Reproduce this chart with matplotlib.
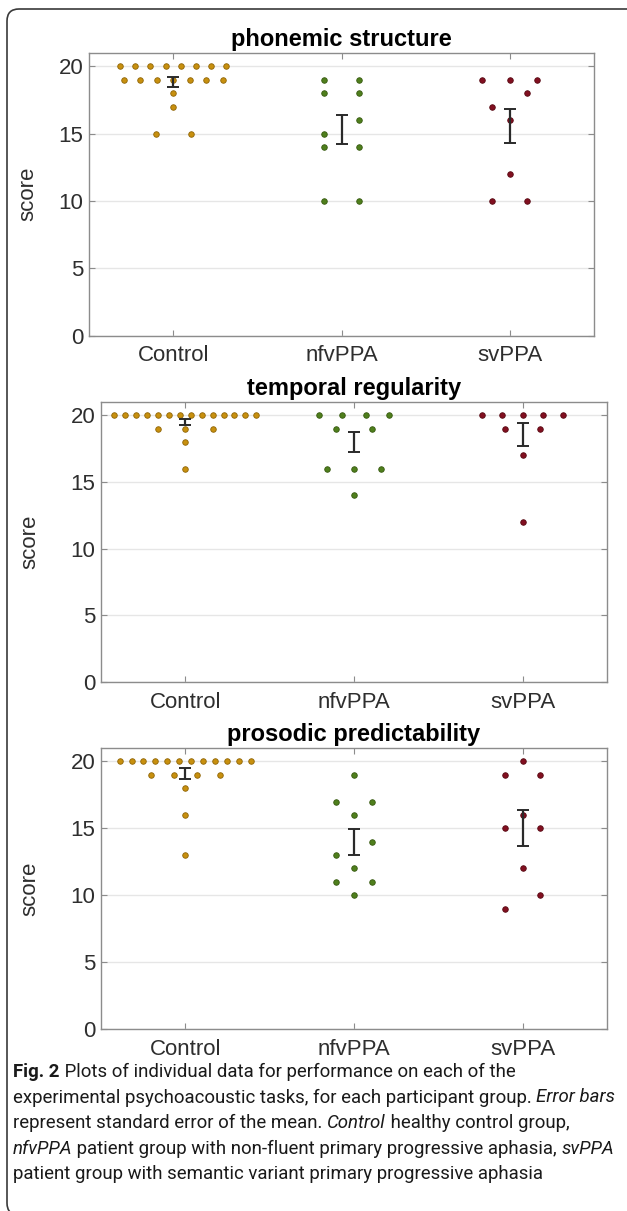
"""Individual scores on the three psychoacoustic tasks, per participant group (Fig. 2)."""

import matplotlib

matplotlib.use("Agg")
import matplotlib.pyplot as plt
import numpy as np
from matplotlib.patches import FancyBboxPatch
from matplotlib.transforms import IdentityTransform

W, H = 627, 1211

groups = ["Control", "nfvPPA", "svPPA"]
panel_titles = ["phonemic structure", "temporal regularity", "prosodic predictability"]
y_ticks = [0, 5, 10, 15, 20]

# scores, one list per group and task
phonemic_control = [20, 20, 20, 20, 20, 20, 20, 20, 19, 19, 19, 19, 19, 19, 19, 18, 17, 15, 15]
phonemic_nfvppa = [19, 19, 18, 18, 16, 15, 14, 14, 10, 10]
phonemic_svppa = [19, 19, 19, 18, 17, 16, 12, 10, 10]

temporal_control = [20, 20, 20, 20, 20, 20, 20, 20, 20, 20, 20, 20, 20, 20, 19, 19, 19, 18, 16]
temporal_nfvppa = [20, 20, 20, 20, 19, 19, 16, 16, 16, 14]
temporal_svppa = [20, 20, 20, 20, 20, 19, 19, 17, 12]

prosodic_control = [20, 20, 20, 20, 20, 20, 20, 20, 20, 20, 20, 20, 19, 19, 19, 19, 18, 16, 13]
prosodic_nfvppa = [19, 17, 17, 16, 14, 13, 12, 11, 11, 10]
prosodic_svppa = [20, 19, 19, 16, 15, 15, 12, 10, 9]

panels = [
    [phonemic_control, phonemic_nfvppa, phonemic_svppa],
    [temporal_control, temporal_nfvppa, temporal_svppa],
    [prosodic_control, prosodic_nfvppa, prosodic_svppa],
]

face_colors = ["#C8900E", "#4F7F1C", "#820F20"]
edge_colors = ["#8F6406", "#36590F", "#560812"]

# axes boxes in pixels: left, right, top, bottom
boxes = [(89, 594, 53, 335.5), (101, 607, 402, 682), (101, 607, 748, 1029)]
ylabel_x = [38, 40, 40]

caption_lines = [
    [("Fig. 2", "bold", "normal"), (" Plots of individual data for performance on each of the", "normal", "normal")],
    [("experimental psychoacoustic tasks, for each participant group. ", "normal", "normal"),
     ("Error bars", "normal", "italic")],
    [("represent standard error of the mean. ", "normal", "normal"), ("Control", "normal", "italic"),
     (" healthy control group,", "normal", "normal")],
    [("nfvPPA", "normal", "italic"),
     (" patient group with non-fluent primary progressive aphasia, ", "normal", "normal"),
     ("svPPA", "normal", "italic")],
    [("patient group with semantic variant primary progressive aphasia", "normal", "normal")],
]
caption_y = [1072, 1097.5, 1123, 1148.5, 1174]


def spread(values, pair_singles):
    """Simple beeswarm: equal values side by side, width shrinking with count."""
    vals = np.asarray(values)
    uniq, counts = np.unique(vals, return_counts=True)
    count = dict(zip(uniq.tolist(), counts.tolist()))
    side = {}
    if pair_singles:
        for u in sorted(count, reverse=True):
            if count[u] == 1 and u not in side and count.get(u - 1) == 1 and (u - 1) not in side:
                side[u], side[u - 1] = 1, -1
    xs, ys = [], []
    for u in sorted(count, reverse=True):
        n = count[u]
        if u in side:
            xs.append(side[u] * 0.315 * 2 ** -0.6 / 2)
            ys.append(u)
            continue
        step = 0.315 * n ** -0.6
        xs.extend((np.arange(n) - (n - 1) / 2) * step)
        ys.extend([u] * n)
    return np.array(xs), np.array(ys)


def text_width(renderer, s, prop):
    w1, _, _ = renderer.get_text_width_height_descent(s + "I", prop, ismath=False)
    w2, _, _ = renderer.get_text_width_height_descent("I", prop, ismath=False)
    return w1 - w2


fig = plt.figure(figsize=(W / 100, H / 100), dpi=100)
fig.patch.set_facecolor("white")

for p, (data, title) in enumerate(zip(panels, panel_titles)):
    left, right, top, bottom = boxes[p]
    ax = fig.add_axes([left / W, 1 - bottom / H, (right - left) / W, (bottom - top) / H])
    for g, values in enumerate(data):
        dx, dy = spread(values, pair_singles=len(values) <= 12)
        ax.scatter(g + 1 + dx, dy, s=16, color=face_colors[g], edgecolors=edge_colors[g],
                   linewidths=0.6, zorder=3)
        v = np.asarray(values, dtype=float)
        ax.errorbar(g + 1, v.mean(), yerr=v.std(ddof=1) / np.sqrt(len(v)), color="#2A2A2A",
                    elinewidth=1.6, capsize=4, capthick=1.4, zorder=4)
    ax.set_xlim(0.5, 3.5)
    ax.set_ylim(0, 21)
    ax.set_xticks([1, 2, 3], labels=groups)
    ax.set_yticks(y_ticks)
    ax.tick_params(direction="in", top=True, right=True, length=4, width=0.8, colors="#8C8C8C",
                   labelcolor="#2E2E2E", labelsize=16)
    ax.tick_params(axis="x", pad=7)
    ax.tick_params(axis="y", pad=4)
    ax.grid(axis="y", color="#E6E6E6", linewidth=1.0)
    ax.set_axisbelow(True)
    for spine in ax.spines.values():
        spine.set_color("#8C8C8C")
        spine.set_linewidth(1.0)
    ax.set_title(title, fontsize=17, fontweight="bold", pad=5)
    ax.set_ylabel("score", fontsize=16, color="#2E2E2E")
    ax.yaxis.set_label_coords((ylabel_x[p] - left) / (right - left), 0.5)

for ax in fig.axes:
    for t in ax.get_xticklabels() + ax.get_yticklabels() + [ax.title, ax.yaxis.label]:
        t.set_family("Liberation Sans")

# caption, set segment by segment so italics and bold can sit inline
renderer = fig.canvas.get_renderer()
for line, y in zip(caption_lines, caption_y):
    x = 13
    for text, weight, style in line:
        t = fig.text(x / W, 1 - y / H, text, fontsize=13.4, family="Roboto", fontweight=weight,
                     fontstyle=style, va="center", ha="left", color="#1A1A1A")
        x += text_width(renderer, text, t.get_fontproperties())

frame = FancyBboxPatch((7, -4), 700, H - 9 + 4, boxstyle="round,pad=0,rounding_size=12",
                       transform=IdentityTransform(), facecolor="none", edgecolor="#3A3A3A",
                       linewidth=1.2, zorder=0)
fig.patches.append(frame)

fig.savefig("out.png", dpi=100)
plt.close(fig)
